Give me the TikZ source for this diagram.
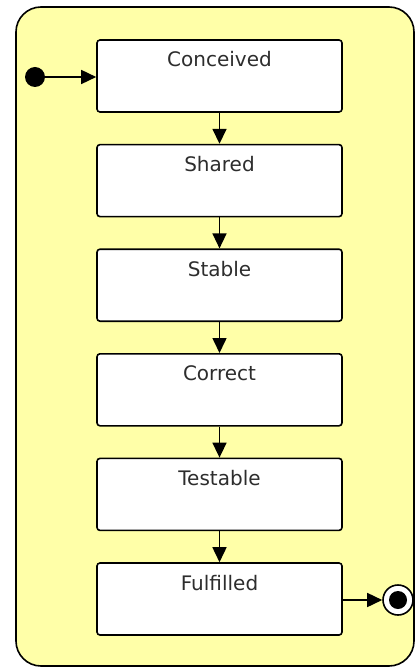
\documentclass[tikz,border=0pt]{standalone}
\usepackage{fontspec}
\setmainfont{DejaVu Sans}
\usetikzlibrary{positioning,arrows.meta}

\definecolor{lemon}{RGB}{255,255,168}
\definecolor{inkgray}{RGB}{45,45,45}

\tikzset{
  state/.style={draw=black, line width=1.6pt, fill=white, rounded corners=3pt,
    minimum width=245pt, inner xsep=0pt, inner ysep=12pt,
    text height=15pt, text depth=33pt, text=inkgray, font=\fontsize{20}{23}\selectfont},
  startdot/.style={circle, fill=black, minimum size=20pt, inner sep=0pt},
  enddot/.style={circle, draw=black, line width=1.6pt, fill=white, minimum size=30pt, inner sep=0pt,
    path picture={\fill[black] (path picture bounding box.center) circle (9pt);}},
  trans/.style={line width=1.6pt, -{Triangle[length=15pt,width=14pt]}}
}

\begin{document}
\begin{tikzpicture}[x=1pt, y=1pt, node distance=31pt]
  \useasboundingbox (0,0) rectangle (416,-668);
  \fill[white] (0,0) rectangle (416,-668);
  \draw[line width=1.6pt, fill=lemon, rounded corners=25pt] (16,-7) rectangle (414,-666);

  \node[state] (conceived) at (219.5,-76) {Conceived};
  \node[state, below=of conceived] (shared) {Shared};
  \node[state, below=of shared] (stable) {Stable};
  \node[state, below=of stable] (correct) {Correct};
  \node[state, below=of correct] (testable) {Testable};
  \node[state, below=of testable] (fulfilled) {Fulfilled};

  \node[startdot] (start) at (35,-77) {};
  \node[enddot] (end) at (398,-600) {};

  \draw[trans] (start) -- (conceived.west |- start);
  \draw[trans] (conceived) -- (shared);
  \draw[trans] (shared) -- (stable);
  \draw[trans] (stable) -- (correct);
  \draw[trans] (correct) -- (testable);
  \draw[trans] (testable) -- (fulfilled);
  \draw[trans] (fulfilled.east |- end) -- (end);
\end{tikzpicture}
\end{document}
